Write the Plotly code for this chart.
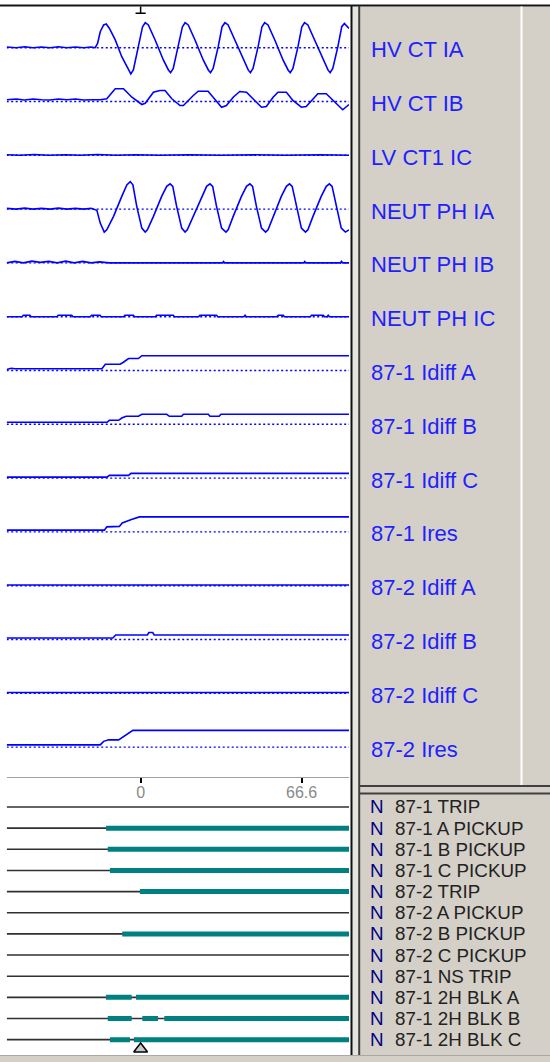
import plotly.graph_objects as go

# ---------------- data ----------------
time_start_ms = -55.4
time_end_ms = 86.2
trigger_ms = 0.0
tick_vals = [0, 66.6]
tick_text = ["0", "66.6"]

analog_names = ["HV CT IA", "HV CT IB", "LV CT1 IC", "NEUT PH IA", "NEUT PH IB",
                "NEUT PH IC", "87-1 Idiff A", "87-1 Idiff B", "87-1 Idiff C",
                "87-1 Ires", "87-2 Idiff A", "87-2 Idiff B", "87-2 Idiff C", "87-2 Ires"]

hv_ct_ia_t = [-55.4, -51.5, -48.0, -44.5, -41.0, -37.5, -34.0, -30.5, -27.0, -23.5, -20.5,
              -18.8, -17.8, -16.7, -15.3, -14.2, -12.9, -10.5, -7.8, -5.0, -4.05, -3.0, -0.9,
              0.8, 1.9, 3.2, 6.0, 9.4, 11.5, 12.4, 13.5, 15.6,
              17.3, 18.4, 19.7, 22.5, 25.9, 28.0, 28.9, 30.0, 32.1,
              33.7, 34.9, 36.2, 39.0, 42.4, 44.5, 45.4, 46.5, 48.6,
              50.2, 51.3, 52.7, 55.5, 58.9, 61.0, 61.9, 63.0, 65.1,
              66.7, 67.8, 69.2, 72.0, 75.4, 77.5, 78.4, 79.5, 81.6,
              83.2, 84.3, 86.2]
hv_ct_ia_v = [0.03, 0.0, 0.04, 0.0, 0.03, 0.0, 0.04, 0.0, 0.03, 0.0, 0.03,
              0.0, 0.17, 0.64, 0.91, 0.95, 0.77, 0.31, -0.36, -0.92, -1.05, -0.89, 0.04,
              0.84, 1.0, 0.91, 0.31, -0.49, -0.89, -1.0, -0.83, 0.04,
              0.84, 1.0, 0.91, 0.31, -0.49, -0.89, -1.0, -0.83, 0.04,
              0.84, 1.0, 0.91, 0.31, -0.49, -0.89, -1.0, -0.83, 0.04,
              0.84, 1.0, 0.91, 0.31, -0.49, -0.89, -1.0, -0.83, 0.04,
              0.84, 1.0, 0.91, 0.31, -0.49, -0.89, -1.0, -0.83, 0.04,
              0.84, 0.97, 0.77]

hv_ct_ib_t = [-55.4, -51.5, -48.0, -44.5, -41.0, -37.5, -34.0, -30.5, -27.0, -23.5, -20.0,
              -16.7, -14.0, -10.5, -7.1, -3.6, 0.5, 1.9, 5.3, 8.0, 10.1, 12.9, 16.3, 17.7,
              21.8, 23.8, 27.9, 31.3, 33.5, 35.5, 38.3, 41.0, 43.8, 47.2, 50.0, 52.0,
              54.8, 56.8, 60.3, 63.0, 66.5, 68.5, 71.3, 73.3, 76.8, 79.5, 83.6, 86.2]
hv_ct_ib_v = [0.07, 0.1, 0.06, 0.1, 0.07, 0.06, 0.1, 0.07, 0.1, 0.06, 0.07,
              0.07, 0.11, 0.51, 0.51, 0.17, -0.12, -0.07, 0.37, 0.44, 0.44, 0.11, -0.16, -0.16,
              0.24, 0.41, 0.41, 0.04, -0.23, -0.16, 0.17, 0.40, 0.37, 0.04, -0.23, -0.2,
              0.17, 0.37, 0.37, 0.04, -0.23, -0.2, 0.11, 0.31, 0.31, 0.04, -0.33, -0.12]

lv_ct1_ic_t = [-55.4, -50.0, -44.0, -38.0, -31.0, -25.0, -18.0, -10.0, -2.0, 8.0,
               20.0, 33.0, 47.0, 60.0, 74.0, 86.2]
lv_ct1_ic_v = [0.02, 0.0, 0.03, 0.0, 0.02, 0.0, 0.03, 0.0, 0.02, 0.0,
               0.02, 0.0, 0.02, 0.0, 0.02, 0.0]

neut_ph_ia_t = [-55.4, -51.5, -48.0, -44.5, -41.0, -37.5, -34.0, -30.5, -27.0, -23.5, -20.5,
                -19.5, -18.1, -16.7, -15.05, -14.0, -11.2, -7.8, -5.7, -4.3, -3.2, -1.6,
                0.5, 1.9, 2.8, 5.3, 8.7, 10.8, 12.2, 13.3, 14.9,
                17.0, 18.4, 19.3, 21.8, 25.2, 27.3, 28.7, 29.8, 31.4,
                33.5, 35.3, 36.2, 38.3, 41.7, 43.8, 45.2, 46.3, 47.9,
                50.0, 51.7, 52.7, 54.8, 58.2, 60.3, 61.6, 62.7, 64.4,
                66.5, 68.2, 69.2, 71.3, 74.7, 76.8, 78.1, 79.2, 80.9,
                83.0, 84.7, 86.2]
neut_ph_ia_v = [0.03, 0.0, 0.04, 0.0, 0.03, 0.0, 0.04, 0.0, 0.03, 0.0, 0.03,
                0.0, -0.05, -0.56, -0.92, -0.83, -0.29, 0.51, 0.97, 1.1, 0.97, 0.11,
                -0.76, -0.92, -0.83, -0.29, 0.51, 0.91, 1.01, 0.91, 0.11,
                -0.76, -0.92, -0.83, -0.29, 0.51, 0.91, 1.01, 0.91, 0.11,
                -0.76, -0.92, -0.83, -0.29, 0.51, 0.91, 1.01, 0.91, 0.11,
                -0.76, -0.92, -0.83, -0.29, 0.51, 0.91, 1.01, 0.91, 0.11,
                -0.76, -0.92, -0.83, -0.29, 0.51, 0.91, 1.01, 0.91, 0.11,
                -0.76, -0.92, -0.83]

neut_ph_ib_t = [-55.4, -52.0, -48.5, -45.0, -41.5, -38.0, -34.5, -31.0, -27.5, -24.0, -20.5,
                -17.0, -13.0, 33.8, 34.3, 34.8, 67.4, 67.9, 68.4, 82.6, 83.1, 83.6, 86.2]
neut_ph_ib_v = [0.0, 0.06, 0.0, 0.07, 0.02, 0.06, 0.0, 0.07, 0.0, 0.06, 0.0,
                0.04, 0.0, 0.0, 0.06, 0.0, 0.0, 0.06, 0.0, 0.0, 0.06, 0.0, 0.0]

neut_ph_ic_t = [-55.4, -49.0, -48.5, -45.8, -45.3, -34.6, -34.1, -28.5, -28.0, -20.8,
                -20.3, -16.8, -16.3, -7.0, -6.5, -3.0, -2.5, 6.1, 6.6, 13.5,
                14.0, 24.0, 24.5, 31.4, 31.9, 42.7, 43.2, 43.7, 56.4, 56.9,
                59.0, 59.5, 70.2, 70.7, 75.6, 76.1, 77.1, 77.6, 78.1, 86.2]
neut_ph_ic_v = [0.0, 0.0, 0.06, 0.06, 0.0, 0.0, 0.06, 0.06, 0.0, 0.0,
                0.06, 0.06, 0.0, 0.0, 0.06, 0.06, 0.0, 0.0, 0.06, 0.06,
                0.0, 0.0, 0.06, 0.06, 0.0, 0.0, 0.06, 0.0, 0.0, 0.06,
                0.06, 0.0, 0.0, 0.06, 0.06, 0.0, 0.0, 0.06, 0.0, 0.0]

idiff1_a_t = [-55.4, -53.5, -52.0, -16.0, -14.6, -8.5, -7.1, -5.0, -0.9, 0.5, 86.2]
idiff1_a_v = [0.04, 0.09, 0.07, 0.07, 0.25, 0.25, 0.33, 0.48, 0.48, 0.59, 0.59]

idiff1_b_t = [-55.4, -13.9, -12.9, -9.1, -7.8, -6.0, -0.9, 0.5, 10.8, 11.9, 17.0, 17.7,
              28.0, 28.7, 32.5, 33.2, 86.2]
idiff1_b_v = [0.08, 0.08, 0.16, 0.16, 0.25, 0.32, 0.32, 0.4, 0.4, 0.32, 0.32, 0.4,
              0.4, 0.32, 0.32, 0.4, 0.4]

idiff1_c_t = [-55.4, -13.9, -12.9, -5.0, -4.0, 86.2]
idiff1_c_v = [0.04, 0.04, 0.11, 0.11, 0.19, 0.19]

ires1_t = [-55.4, -15.0, -14.0, -8.8, -7.6, -5.2, -3.8, -0.5, 86.2]
ires1_v = [0.07, 0.07, 0.2, 0.22, 0.36, 0.46, 0.5, 0.6, 0.6]

idiff2_a_t = [-55.4, 86.2]
idiff2_a_v = [0.03, 0.03]

idiff2_b_t = [-55.4, -11.5, -10.3, 2.8, 3.4, 5.0, 5.6, 86.2]
idiff2_b_v = [0.06, 0.06, 0.18, 0.18, 0.28, 0.28, 0.18, 0.18]

idiff2_c_t = [-55.4, 86.2]
idiff2_c_v = [0.03, 0.03]

ires2_t = [-55.4, -16.7, -15.3, -13.2, -9.1, -7.1, -5.0, -3.2, 86.2]
ires2_v = [0.09, 0.09, 0.23, 0.29, 0.29, 0.43, 0.56, 0.67, 0.67]

digital_names = ["87-1 TRIP", "87-1 A PICKUP", "87-1 B PICKUP", "87-1 C PICKUP",
                 "87-2 TRIP", "87-2 A PICKUP", "87-2 B PICKUP", "87-2 C PICKUP",
                 "87-1 NS TRIP", "87-1 2H BLK A", "87-1 2H BLK B", "87-1 2H BLK C"]
digital_on_start = [[], [-14.3], [-13.6], [-12.7], [-0.3], [], [-7.6], [], [],
                    [-14.3, -1.9], [-13.6, 0.7, 9.8], [-12.7, -2.8]]
digital_on_end = [[], [86.2], [86.2], [86.2], [86.2], [], [86.2], [], [],
                  [-3.7, 86.2], [-3.7, 7.2, 86.2], [-4.4, 86.2]]

# ---------------- layout helpers ----------------
W, H = 550, 1062
FONT = "Liberation Sans, Arial, sans-serif"
BLUE = "#0000ff"
PANEL = "#d4d0c8"


def py(p):
    return 1 - p / H


def px(p):
    return p / W


analog_t = [hv_ct_ia_t, hv_ct_ib_t, lv_ct1_ic_t, neut_ph_ia_t, neut_ph_ib_t, neut_ph_ic_t,
            idiff1_a_t, idiff1_b_t, idiff1_c_t, ires1_t, idiff2_a_t, idiff2_b_t,
            idiff2_c_t, ires2_t]
analog_v = [hv_ct_ia_v, hv_ct_ib_v, lv_ct1_ic_v, neut_ph_ia_v, neut_ph_ib_v, neut_ph_ic_v,
            idiff1_a_v, idiff1_b_v, idiff1_c_v, ires1_v, idiff2_a_v, idiff2_b_v,
            idiff2_c_v, ires2_v]

first_center, pitch, half = 47.7, 53.8, 29.0
unit_px = 25.0

fig = go.Figure()
layout = dict(
    width=W, height=H, margin=dict(l=0, r=0, t=0, b=0),
    paper_bgcolor="white", plot_bgcolor="rgba(0,0,0,0)",
    showlegend=False, hovermode=False,
    xaxis=dict(domain=[px(6.7), px(349)], range=[time_start_ms, time_end_ms],
               anchor="free", position=py(777), showline=True, linecolor="#a0a0a0",
               linewidth=1, ticks="outside", ticklen=5, tickwidth=2, tickcolor="#000000",
               tickvals=tick_vals, ticktext=tick_text, showgrid=False, zeroline=False,
               ticklabelstandoff=-4,
               tickfont=dict(family=FONT, size=16, color="#8a8a8a"), fixedrange=True),
)
annotations = []
for k, name in enumerate(analog_names):
    yid = "y" if k == 0 else f"y{k + 1}"
    akey = "yaxis" if k == 0 else f"yaxis{k + 1}"
    c = first_center + k * pitch
    layout[akey] = dict(domain=[py(c + half), py(c - half)],
                        range=[-half / unit_px, half / unit_px], visible=False,
                        anchor="x", fixedrange=True)
    fig.add_trace(go.Scatter(x=[time_start_ms, time_end_ms], y=[0, 0], xaxis="x", yaxis=yid,
                             mode="lines", line=dict(color=BLUE, width=1.4, dash="2px,2.5px")))
    fig.add_trace(go.Scatter(x=analog_t[k], y=analog_v[k], xaxis="x", yaxis=yid,
                             mode="lines", line=dict(color=BLUE, width=1.6)))
    annotations.append(dict(x=px(368.5), xref="paper", y=0, yref=yid, text=name,
                            showarrow=False, xanchor="left", yanchor="middle", yshift=-2,
                            font=dict(family=FONT, size=22, color="#1f1fff")))

# digital channels
dig_top, dig_pitch = 807.0, 21.15
n_dig = len(digital_names)
layout["yaxis15"] = dict(domain=[py(dig_top + (n_dig - 0.5) * dig_pitch), py(dig_top - 0.5 * dig_pitch)],
                         range=[n_dig - 0.5, -0.5], visible=False, anchor="x", fixedrange=True)
for i, name in enumerate(digital_names):
    fig.add_trace(go.Scatter(x=[time_start_ms, time_end_ms], y=[i, i], xaxis="x", yaxis="y15",
                             mode="lines", line=dict(color="#303030", width=1.6)))
    xs, ys = [], []
    for s, e in zip(digital_on_start[i], digital_on_end[i]):
        xs += [s, e, None]
        ys += [i, i, None]
    if xs:
        fig.add_trace(go.Scatter(x=xs, y=ys, xaxis="x", yaxis="y15", mode="lines",
                                 line=dict(color="#008080", width=5)))
    annotations.append(dict(x=px(369), xref="paper", y=i, yref="y15", text="N",
                            showarrow=False, xanchor="left", yanchor="middle", borderpad=0,
                            font=dict(family=FONT, size=18.8, color="#000080")))
    annotations.append(dict(x=px(393.5), xref="paper", y=i, yref="y15", text=name,
                            showarrow=False, xanchor="left", yanchor="middle", borderpad=0,
                            font=dict(family=FONT, size=18.8, color="#222222")))

# trigger triangle at bottom
fig.add_trace(go.Scatter(x=[trigger_ms], y=[n_dig - 0.56], xaxis="x", yaxis="y15",
                         mode="markers", cliponaxis=False,
                         marker=dict(symbol="triangle-up", size=12, color="#c8c8c8",
                                     line=dict(color="#000000", width=1.5))))

shapes = [
    # right grey panel
    dict(type="rect", xref="paper", yref="paper", x0=px(360), x1=1, y0=py(1055), y1=py(6.5),
         fillcolor=PANEL, line=dict(width=0), layer="below"),
    # bottom band
    dict(type="rect", xref="paper", yref="paper", x0=0, x1=1, y0=0, y1=py(1055),
         fillcolor=PANEL, line=dict(width=0), layer="below"),
    dict(type="line", xref="paper", yref="paper", x0=0, x1=1, y0=py(1055.5), y1=py(1055.5),
         line=dict(color="#a8a8a8", width=1)),
    # top black line
    dict(type="line", xref="paper", yref="paper", x0=0, x1=1, y0=py(5.5), y1=py(5.5),
         line=dict(color="#161616", width=2)),
    # splitter column
    dict(type="rect", xref="paper", yref="paper", x0=px(351), x1=px(360), y0=py(1055), y1=py(6.5),
         fillcolor="#e6e4de", line=dict(width=0), layer="below"),
    dict(type="line", xref="paper", yref="paper", x0=px(351.5), x1=px(351.5), y0=py(1055), y1=py(6),
         line=dict(color="#101010", width=2)),
    dict(type="line", xref="paper", yref="paper", x0=px(359.2), x1=px(359.2), y0=py(1055), y1=py(6),
         line=dict(color="#404040", width=2)),
    # right panel horizontal separator
    dict(type="line", xref="paper", yref="paper", x0=px(360), x1=1, y0=py(786), y1=py(786),
         line=dict(color="#404040", width=2)),
    dict(type="line", xref="paper", yref="paper", x0=px(360), x1=1, y0=py(793.5), y1=py(793.5),
         line=dict(color="#404040", width=2)),
    # white divider in label panel
    dict(type="line", xref="paper", yref="paper", x0=px(521.5), x1=px(521.5), y0=py(785), y1=py(6.5),
         line=dict(color="#ffffff", width=2)),
    # trigger cursor at top
    dict(type="line", xref="x", yref="paper", x0=trigger_ms, x1=trigger_ms, y0=py(13.3), y1=py(6.5),
         line=dict(color="#000000", width=1.5)),
    dict(type="line", xref="x", yref="paper", x0=trigger_ms - 2.1, x1=trigger_ms + 2.1,
         y0=py(13.3), y1=py(13.3), line=dict(color="#000000", width=1.5)),
]

layout["shapes"] = shapes
layout["annotations"] = annotations
fig.update_layout(**layout)
fig.write_html("out.html", config={"displayModeBar": False},
               post_script="document.body.style.margin='0';")
